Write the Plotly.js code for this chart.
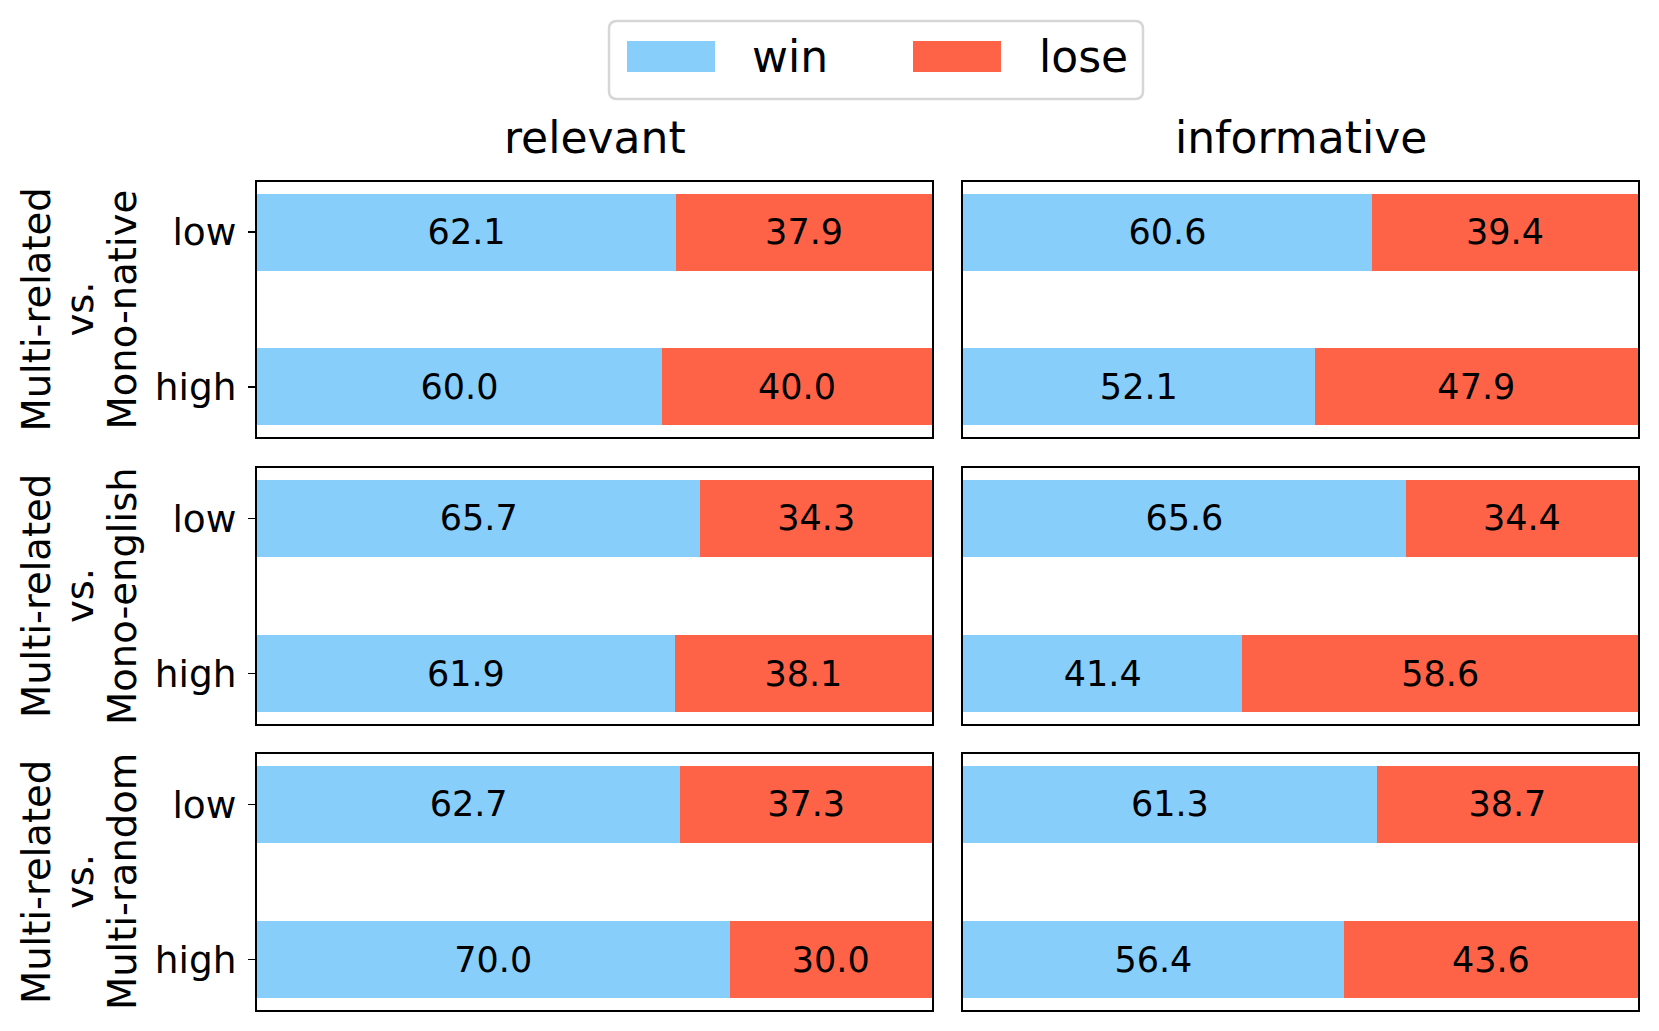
<!DOCTYPE html>
<html>
<head>
<meta charset="utf-8">
<script src="https://cdn.plot.ly/plotly-3.0.1.min.js"></script>
<style>html,body{margin:0;padding:0;background:#fff;}#chart{width:1659px;height:1031px;}</style>
</head>
<body>
<div id="chart"></div>
<script>
// ---- data ----
const rowGroups = [['Multi-related', 'vs.', 'Mono-native'], ['Multi-related', 'vs.', 'Mono-english'], ['Multi-related', 'vs.', 'Multi-random']];
const aspects = ['relevant', 'informative'];
const levels = ['low', 'high'];
const winRelevant = [[62.1, 60.0], [65.7, 61.9], [62.7, 70.0]];
const loseRelevant = [[37.9, 40.0], [34.3, 38.1], [37.3, 30.0]];
const winInformative = [[60.6, 52.1], [65.6, 41.4], [61.3, 56.4]];
const loseInformative = [[39.4, 47.9], [34.4, 58.6], [38.7, 43.6]];
const seriesNames = ['win', 'lose'];

// ---- styles ----
const W = 1659, H = 1031;
const winColor = '#87CEFA';
const loseColor = '#FF6347';
const FONT = 'DejaVu Sans';
const px2x = p => p / W;
const px2y = p => 1 - p / H;
const colPx = [[257, 932], [963, 1638]];
const rowPx = [[182, 437], [468, 724], [754, 1010]];
const rowLabelX = [36, 79, 122];

const winData = [winRelevant, winInformative];
const loseData = [loseRelevant, loseInformative];

const traces = [];
const layout = {
  width: W, height: H,
  margin: {l: 0, r: 0, t: 0, b: 0},
  paper_bgcolor: '#fff', plot_bgcolor: '#fff',
  barmode: 'stack',
  showlegend: false,
  font: {family: FONT, size: 37, color: '#000'},
  annotations: [], shapes: []
};

for (let r = 0; r < 3; r++) {
  for (let c = 0; c < 2; c++) {
    const k = r * 2 + c + 1;
    const xa = k === 1 ? 'x' : 'x' + k;
    const ya = k === 1 ? 'y' : 'y' + k;
    const sets = [winData[c][r], loseData[c][r]];
    const cols = [winColor, loseColor];
    for (let s = 0; s < 2; s++) {
      traces.push({
        type: 'bar', orientation: 'h',
        name: seriesNames[s],
        x: sets[s], y: levels,
        xaxis: xa, yaxis: ya,
        width: 0.5,
        marker: {color: cols[s], line: {width: 0}},
        text: sets[s].map(v => v.toFixed(1)),
        textposition: 'inside', insidetextanchor: 'middle',
        constraintext: 'none',
        textfont: {family: FONT, size: 35, color: '#000'},
        hoverinfo: 'skip'
      });
    }
    const xkey = k === 1 ? 'xaxis' : 'xaxis' + k;
    const ykey = k === 1 ? 'yaxis' : 'yaxis' + k;
    layout[xkey] = {
      domain: [px2x(colPx[c][0]), px2x(colPx[c][1])],
      anchor: ya, range: [0, 100],
      showticklabels: false, ticks: '', showgrid: false, zeroline: false,
      showline: true, mirror: true, linecolor: '#000', linewidth: 2,
      fixedrange: true
    };
    layout[ykey] = {
      domain: [px2y(rowPx[r][1]), px2y(rowPx[r][0])],
      anchor: xa, type: 'category', categoryorder: 'array', categoryarray: levels,
      range: [1.325, -0.325],
      showticklabels: c === 0, ticks: c === 0 ? 'outside' : '', ticklen: 7, tickwidth: 1.5, tickcolor: '#000',
      ticklabelstandoff: 4,
      tickfont: {family: FONT, size: 37.5, color: '#000'},
      showgrid: false, zeroline: false,
      showline: true, mirror: true, linecolor: '#000', linewidth: 2,
      fixedrange: true
    };
  }
  // row label (three rotated lines)
  rowGroups[r].forEach((line, i) => {
    layout.annotations.push({
      xref: 'paper', yref: 'paper',
      x: px2x(rowLabelX[i]), y: px2y((rowPx[r][0] + rowPx[r][1]) / 2),
      xanchor: 'center', yanchor: 'middle',
      text: line, textangle: -90, showarrow: false,
      font: {family: FONT, size: 38.5, color: '#000'}
    });
  });
}

// column titles
for (let c = 0; c < 2; c++) {
  layout.annotations.push({
    xref: 'paper', yref: 'paper',
    x: px2x((colPx[c][0] + colPx[c][1]) / 2), y: px2y(137),
    xanchor: 'center', yanchor: 'middle',
    text: aspects[c], showarrow: false,
    font: {family: FONT, size: 44, color: '#000'}
  });
}

// legend (drawn by hand to match large swatches)
const Lx0 = 609, Lx1 = 1143, Ly0 = 21, Ly1 = 99, rad = 8;
const P = (x, y) => px2x(x) + ',' + px2y(y);
layout.shapes.push({
  type: 'path', xref: 'paper', yref: 'paper',
  path: 'M' + P(Lx0 + rad, Ly0) + ' L' + P(Lx1 - rad, Ly0) + ' Q' + P(Lx1, Ly0) + ' ' + P(Lx1, Ly0 + rad) +
        ' L' + P(Lx1, Ly1 - rad) + ' Q' + P(Lx1, Ly1) + ' ' + P(Lx1 - rad, Ly1) +
        ' L' + P(Lx0 + rad, Ly1) + ' Q' + P(Lx0, Ly1) + ' ' + P(Lx0, Ly1 - rad) +
        ' L' + P(Lx0, Ly0 + rad) + ' Q' + P(Lx0, Ly0) + ' ' + P(Lx0 + rad, Ly0) + ' Z',
  line: {color: '#d6d6d6', width: 2.5}, fillcolor: 'rgba(255,255,255,0.8)'
});
const legendItems = [{x: 627, tx: 750, color: winColor}, {x: 913, tx: 1037, color: loseColor}];
legendItems.forEach((it, i) => {
  layout.shapes.push({
    type: 'rect', xref: 'paper', yref: 'paper',
    x0: px2x(it.x), x1: px2x(it.x + 88), y0: px2y(72), y1: px2y(41),
    line: {width: 0}, fillcolor: it.color
  });
  layout.annotations.push({
    xref: 'paper', yref: 'paper',
    x: px2x(it.tx), y: px2y(57), xanchor: 'left', yanchor: 'middle',
    text: seriesNames[i], showarrow: false,
    font: {family: FONT, size: 44, color: '#000'}
  });
});

Plotly.newPlot('chart', traces, layout, {staticPlot: true, displayModeBar: false});
</script>
</body>
</html>
